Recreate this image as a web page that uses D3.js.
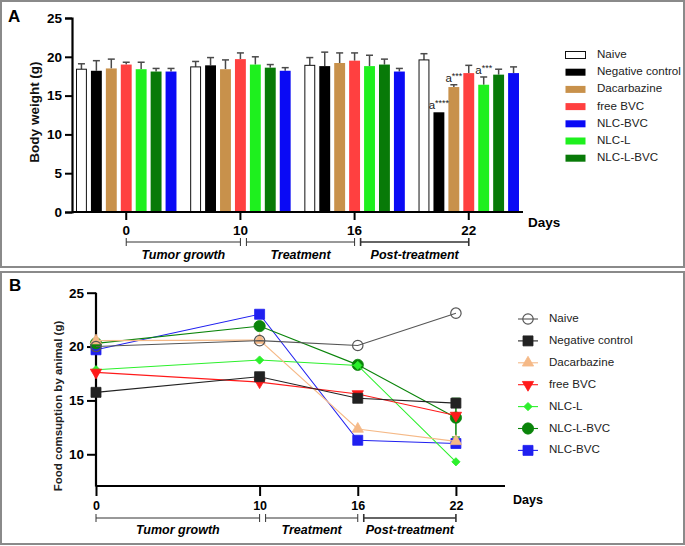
<!DOCTYPE html>
<html>
<head>
<meta charset="utf-8">
<script src="https://cdn.jsdelivr.net/npm/d3@7"></script>
<style>
  body { margin: 0; background: #fff; }
  svg { display: block; font-family: Arial, "Liberation Sans", sans-serif; }
  .tick text { font-weight: bold; }
</style>
</head>
<body>
<svg id="chart" width="685" height="546"></svg>
<script>
// ---- data ----
const days = [0, 10, 16, 22];
const barSeries = ['Naive', 'Negative control', 'Dacarbazine', 'free BVC', 'NLC-L', 'NLC-L-BVC', 'NLC-BVC'];
const legendA = ['Naive', 'Negative control', 'Dacarbazine', 'free BVC', 'NLC-BVC', 'NLC-L', 'NLC-L-BVC'];
const legendB = ['Naive', 'Negative control', 'Dacarbazine', 'free BVC', 'NLC-L', 'NLC-L-BVC', 'NLC-BVC'];

// body weight (g), mean and upper SD
const weightNaive = [18.4, 18.7, 18.9, 19.6];
const weightNeg = [18.2, 18.9, 18.8, 12.85];
const weightDac = [18.5, 18.4, 19.2, 16.1];
const weightFree = [19.0, 19.7, 19.5, 17.9];
const weightNlcL = [18.4, 19.0, 18.8, 16.4];
const weightNlcLBvc = [18.1, 18.6, 19.0, 17.7];
const weightNlcBvc = [18.1, 18.2, 18.1, 17.9];

const sdNaive = [0.7, 0.7, 1.0, 0.8];
const sdNeg = [1.3, 1.0, 1.8, 0];
const sdDac = [1.2, 1.2, 1.3, 0.3];
const sdFree = [0.3, 0.8, 1.0, 1.0];
const sdNlcL = [0.9, 1.0, 1.4, 1.0];
const sdNlcLBvc = [0.4, 0.4, 0.7, 0.7];
const sdNlcBvc = [0.4, 0.4, 0.4, 0.8];

const sigMarks = [
  {day: 22, series: 'Negative control', stars: '****'},
  {day: 22, series: 'Dacarbazine', stars: '***'},
  {day: 22, series: 'NLC-L', stars: '***'}
];

// food consumption (g)
const foodNaive = [20.0, 20.55, 20.1, 23.1];
const foodNeg = [15.75, 17.2, 15.2, 14.75];
const foodDac = [20.55, 20.6, 12.35, 11.2];
const foodFree = [17.6, 16.7, 15.6, 13.6];
const foodNlcL = [17.85, 18.75, 18.25, 9.3];
const foodNlcLBvc = [20.3, 21.9, 18.3, 13.4];
const foodNlcBvc = [19.7, 23.0, 11.3, 11.0];
const foodErrNlcLBvc = [0, 0, 0, 1.8];

const phases = [
  {label: 'Tumor growth', from: 0, to: 10},
  {label: 'Treatment', from: 10, to: 16},
  {label: 'Post-treatment', from: 16, to: 22}
];

const weightTicks = [0, 5, 10, 15, 20, 25];
const foodTicks = [10, 15, 20, 25];

// ---- styles ----
const barColor = {
  'Naive': '#ffffff', 'Negative control': '#000000', 'Dacarbazine': '#c8914b',
  'free BVC': '#ff4040', 'NLC-L': '#1ef01e', 'NLC-L-BVC': '#087a08', 'NLC-BVC': '#0a0af5'
};
const lineColor = {
  'Naive': '#555555', 'Negative control': '#222222', 'Dacarbazine': '#f5b987',
  'free BVC': '#ff1a1a', 'NLC-L': '#2cf02c', 'NLC-L-BVC': '#0a840a', 'NLC-BVC': '#2020f0'
};

const weights = {
  'Naive': weightNaive, 'Negative control': weightNeg, 'Dacarbazine': weightDac, 'free BVC': weightFree,
  'NLC-L': weightNlcL, 'NLC-L-BVC': weightNlcLBvc, 'NLC-BVC': weightNlcBvc
};
const sds = {
  'Naive': sdNaive, 'Negative control': sdNeg, 'Dacarbazine': sdDac, 'free BVC': sdFree,
  'NLC-L': sdNlcL, 'NLC-L-BVC': sdNlcLBvc, 'NLC-BVC': sdNlcBvc
};
const foods = {
  'Naive': foodNaive, 'Negative control': foodNeg, 'Dacarbazine': foodDac, 'free BVC': foodFree,
  'NLC-L': foodNlcL, 'NLC-L-BVC': foodNlcLBvc, 'NLC-BVC': foodNlcBvc
};
const foodErr = {'NLC-L-BVC': foodErrNlcLBvc};

const svg = d3.select('#chart');

// panel frames
svg.append('rect').attr('x', 1).attr('y', 1).attr('width', 683).attr('height', 266)
  .attr('fill', 'none').attr('stroke', '#8a8a8a').attr('stroke-width', 2);
svg.append('rect').attr('x', 1).attr('y', 272).attr('width', 683).attr('height', 272)
  .attr('fill', 'none').attr('stroke', '#8a8a8a').attr('stroke-width', 2);

svg.append('text').attr('x', 8).attr('y', 22).attr('font-size', 17).attr('font-weight', 'bold').text('A');
svg.append('text').attr('x', 9).attr('y', 291).attr('font-size', 17).attr('font-weight', 'bold').text('B');

function drawPhases(g, xPos, y, gap, labelY) {
  phases.forEach(function (p, i) {
    const x0 = xPos(p.from) + (i > 0 ? gap : 0);
    const x1 = xPos(p.to);
    const w = i === 2 ? 1.6 : 1;
    g.append('line').attr('x1', x0).attr('x2', x1).attr('y1', y).attr('y2', y)
      .attr('stroke', '#333').attr('stroke-width', w);
    [x0, x1].forEach(function (x) {
      g.append('line').attr('x1', x).attr('x2', x).attr('y1', y - 4).attr('y2', y + 4)
        .attr('stroke', '#333').attr('stroke-width', w);
    });
    g.append('text').attr('x', (x0 + x1) / 2).attr('y', labelY)
      .attr('text-anchor', 'middle').attr('dominant-baseline', 'middle')
      .attr('font-size', 12.5).attr('font-weight', 'bold').attr('font-style', 'italic')
      .text(p.label);
  });
}

// ================= Panel A: body weight bars =================
const gA = svg.append('g');
const yA = d3.scaleLinear().domain([0, 25]).range([212, 18]);
const xA = d3.scaleBand().domain(days).range([72, 523]).paddingInner(0.12).paddingOuter(0.035);
const xInner = d3.scaleBand().domain(barSeries).range([0, xA.bandwidth()]).paddingInner(0.27);

const barData = [];
days.forEach(function (d, i) {
  barSeries.forEach(function (s) {
    barData.push({day: d, series: s, value: weights[s][i], sd: sds[s][i]});
  });
});

const bars = gA.selectAll('.bar-g').data(barData).enter().append('g')
  .attr('transform', function (d) { return 'translate(' + (xA(d.day) + xInner(d.series)) + ',0)'; });

// error bars (upper only)
bars.filter(function (d) { return d.sd > 0; }).each(function (d) {
  const g = d3.select(this);
  const cx = xInner.bandwidth() / 2;
  g.append('line').attr('x1', cx).attr('x2', cx).attr('y1', yA(d.value)).attr('y2', yA(d.value + d.sd))
    .attr('stroke', '#4a4a4a').attr('stroke-width', 1.5);
  g.append('line').attr('x1', cx - 3.5).attr('x2', cx + 3.5).attr('y1', yA(d.value + d.sd)).attr('y2', yA(d.value + d.sd))
    .attr('stroke', '#4a4a4a').attr('stroke-width', 1.5);
});

bars.append('rect')
  .attr('x', function (d) { return d.series === 'Naive' ? 0.5 : 0; })
  .attr('y', function (d) { return yA(d.value); })
  .attr('width', function (d) { return d.series === 'Naive' ? xInner.bandwidth() - 1 : xInner.bandwidth(); })
  .attr('height', function (d) { return yA(0) - yA(d.value); })
  .attr('fill', function (d) { return barColor[d.series]; })
  .attr('stroke', function (d) { return d.series === 'Naive' ? '#111' : 'none'; })
  .attr('stroke-width', 1);

// significance labels
sigMarks.forEach(function (m) {
  const i = days.indexOf(m.day);
  const top = weights[m.series][i] + sds[m.series][i];
  const t = gA.append('text')
    .attr('x', xA(m.day) + xInner(m.series) + xInner.bandwidth() / 2)
    .attr('y', yA(top) - 3)
    .attr('text-anchor', 'middle').attr('font-size', 11.5).attr('fill', '#222');
  t.append('tspan').text('a');
  t.append('tspan').attr('font-size', 9).attr('dy', -3).text(m.stars);
});

// axes
gA.append('g').attr('transform', 'translate(72,0)')
  .call(d3.axisLeft(yA).tickValues(weightTicks).tickSize(7).tickPadding(3))
  .call(function (g) {
    g.select('.domain').attr('stroke-width', 2.2);
    g.selectAll('.tick line').attr('stroke-width', 2);
    g.selectAll('.tick text').attr('font-size', 13.5);
  });
gA.append('g').attr('transform', 'translate(0,212)')
  .call(d3.axisBottom(xA).tickSize(8).tickPadding(5).tickSizeOuter(0))
  .call(function (g) {
    g.select('.domain').attr('d', 'M72,0H523').attr('stroke-width', 2.2);
    g.selectAll('.tick line').attr('stroke-width', 2);
    g.selectAll('.tick text').attr('font-size', 13.5);
  });

gA.append('text').attr('transform', 'translate(39,112) rotate(-90)')
  .attr('text-anchor', 'middle').attr('font-size', 13.5).attr('font-weight', 'bold').attr('fill', '#111')
  .text('Body weight (g)');
gA.append('text').attr('x', 528).attr('y', 227).attr('font-size', 13.5).attr('font-weight', 'bold').text('Days');

drawPhases(gA, function (d) { return xA(d) + xA.bandwidth() / 2; }, 242, 6, 256);

// legend A
const legA = gA.selectAll('.legA').data(legendA).enter().append('g')
  .attr('transform', function (d, i) { return 'translate(565,' + (55 + i * 17.2) + ')'; });
legA.append('rect').attr('x', 0.5).attr('y', -3.5).attr('width', 20).attr('height', 7)
  .attr('fill', function (d) { return barColor[d]; })
  .attr('stroke', function (d) { return d === 'Naive' ? '#111' : 'none'; });
legA.append('text').attr('x', 32).attr('y', 0).attr('dominant-baseline', 'middle')
  .attr('font-size', 11.6).attr('fill', '#222').text(function (d) { return d; });

// ================= Panel B: food consumption lines =================
const gB = svg.append('g');
const yB = d3.scaleLinear().domain([7, 25]).range([486.6, 292.7]);
const xB = d3.scaleLinear().domain([0, 25]).range([96, 505]);

gB.append('g').attr('transform', 'translate(96,0)')
  .call(d3.axisLeft(yB).tickValues(foodTicks).tickSize(9).tickPadding(3).tickSizeOuter(0))
  .call(function (g) {
    g.select('.domain').attr('d', 'M0,' + yB(25) + 'V' + yB(7)).attr('stroke-width', 2.2);
    g.selectAll('.tick line').attr('stroke-width', 2);
    g.selectAll('.tick text').attr('font-size', 13.5);
  });
gB.append('g').attr('transform', 'translate(0,486)')
  .call(d3.axisBottom(xB).tickValues(days).tickSize(10).tickPadding(5).tickSizeOuter(0))
  .call(function (g) {
    g.select('.domain').attr('d', 'M96,0H505').attr('stroke-width', 2.2);
    g.selectAll('.tick line').attr('stroke-width', 2);
    g.selectAll('.tick text').attr('font-size', 12.5);
  });

gB.append('text').attr('transform', 'translate(62,406) rotate(-90)')
  .attr('text-anchor', 'middle').attr('font-size', 11.5).attr('font-weight', 'bold').attr('fill', '#222')
  .text('Food comsuption by animal (g)');
gB.append('text').attr('x', 513).attr('y', 504).attr('font-size', 12.5).attr('font-weight', 'bold').text('Days');

drawPhases(gB, xB, 518, 6, 531);

function markerPath(s) {
  let type = d3.symbolSquare, size = 100;
  if (s === 'Naive') { type = d3.symbolCircle; size = 85; }
  if (s === 'NLC-L-BVC') { type = d3.symbolCircle; size = 100; }
  if (s === 'Dacarbazine' || s === 'free BVC') { type = d3.symbolTriangle; size = 55; }
  if (s === 'NLC-L') { type = d3.symbolSquare; size = 34; }
  return d3.symbol().type(type).size(size)();
}
function markerTransform(s) {
  if (s === 'free BVC') return ' rotate(180)';
  if (s === 'NLC-L') return ' rotate(45)';
  return '';
}
function drawMarker(g, s, x, y) {
  g.append('path').attr('d', markerPath(s))
    .attr('transform', 'translate(' + x + ',' + y + ')' + markerTransform(s))
    .attr('fill', s === 'Naive' ? 'none' : lineColor[s])
    .attr('stroke', s === 'Naive' ? '#555' : lineColor[s])
    .attr('stroke-width', s === 'Naive' ? 1.2 : 0.8);
}

const line = d3.line()
  .x(function (d) { return xB(d[0]); })
  .y(function (d) { return yB(d[1]); });

// draw last legend entry first so Naive ends on top
legendB.slice().reverse().forEach(function (s) {
  const pts = days.map(function (d, i) { return [d, foods[s][i]]; });
  const g = gB.append('g');
  g.append('path').attr('d', line(pts)).attr('fill', 'none')
    .attr('stroke', lineColor[s]).attr('stroke-width', 1.1);
  if (foodErr[s]) {
    days.forEach(function (d, i) {
      const e = foodErr[s][i];
      if (e > 0) {
        const x = xB(d);
        g.append('line').attr('x1', x).attr('x2', x)
          .attr('y1', yB(foods[s][i] + e)).attr('y2', yB(foods[s][i] - e))
          .attr('stroke', lineColor[s]).attr('stroke-width', 1.5);
        [foods[s][i] + e, foods[s][i] - e].forEach(function (v) {
          g.append('line').attr('x1', x - 4).attr('x2', x + 4).attr('y1', yB(v)).attr('y2', yB(v))
            .attr('stroke', lineColor[s]).attr('stroke-width', 1.2);
        });
      }
    });
  }
  pts.forEach(function (p) { drawMarker(g, s, xB(p[0]), yB(p[1])); });
});

// legend B
const legB = gB.selectAll('.legB').data(legendB).enter().append('g')
  .attr('transform', function (d, i) { return 'translate(518,' + (319 + i * 21.9) + ')'; });
legB.append('line').attr('x1', 0).attr('x2', 20).attr('y1', 0).attr('y2', 0)
  .attr('stroke', function (d) { return lineColor[d]; }).attr('stroke-width', 1.1);
legB.each(function (d) { drawMarker(d3.select(this), d, 10, 0); });
legB.append('text').attr('x', 31).attr('y', 0).attr('dominant-baseline', 'middle')
  .attr('font-size', 11.6).attr('fill', '#222').text(function (d) { return d; });
</script>
</body>
</html>
